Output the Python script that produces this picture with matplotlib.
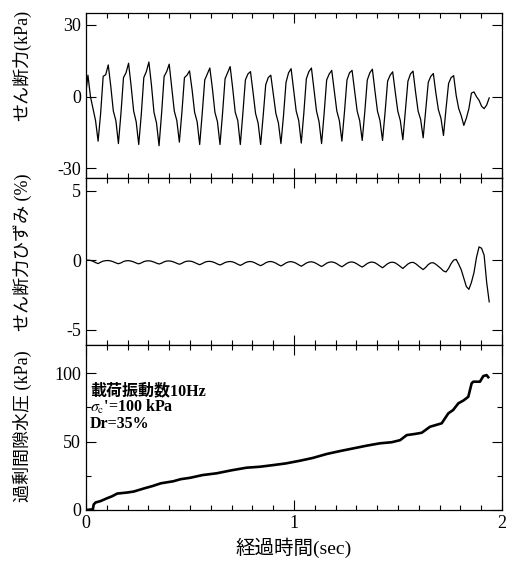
import numpy as np
import matplotlib
matplotlib.use("Agg")
import matplotlib.pyplot as plt
from matplotlib.ticker import MultipleLocator

plt.rcParams["font.family"] = ["Liberation Serif", "Noto Sans CJK JP"]
plt.rcParams["mathtext.fontset"] = "stix"
plt.rcParams["axes.unicode_minus"] = False

# sampling of the stress / strain records (8 samples per load cycle)
t_start = -0.0029
t_step = 0.01221

# shear stress (kPa), one row per load cycle
shear_stress = [
    0,
    9, 0, -5, -10, -18.6, -7, 8.5, 9.2,
    13.3, 4.3, -6, -10, -19.6, -7, 8, 10,
    14, 4.5, -6, -10.5, -20, -7.5, 8, 10.5,
    14.5, 5, -6.5, -11, -20.5, -7, 8.5, 10.5,
    13.6, 4, -6, -10, -19, -6.5, 8, 9,
    10.8, 3, -6.5, -10.5, -20, -7, 7, 9.5,
    12, 3.5, -6.5, -10.5, -20, -7, 7.5, 10,
    12.6, 3.5, -6.5, -10, -20, -7, 7, 9.5,
    10.5, 2, -7, -11, -20, -8, 5, 8,
    9, 1, -7, -11, -19.6, -8, 6, 10,
    11.7, 3, -6, -10, -19.4, -7, 7.5, 10.5,
    12, 3, -6, -10.5, -19.6, -7, 7, 9.5,
    11, 2.5, -6, -10, -18.6, -6.5, 7, 10,
    11, 2.5, -6, -10, -18.3, -6.5, 7, 10,
    11.5, 2.5, -6, -10, -18.3, -6.5, 6.5, 9,
    10.4, 2, -6, -10, -18, -6, 6.5, 9.5,
    10.7, 2, -6, -9.5, -17.2, -5.5, 6, 8.5,
    9.7, 1.5, -5.5, -9, -16.2, -5, 5.5, 8,
    8.8, 0.5, -5, -8, -12, -9, -5, 1.5,
    2, 0, -1.5, -4, -5, -3.5, -0.5,
]

# shear strain (%)
shear_strain = [
    0,
    0, -0.02, -0.08, -0.18, -0.25, -0.15, -0.07, -0.04,
    -0.03, -0.06, -0.12, -0.2, -0.26, -0.2, -0.1, -0.05,
    -0.04, -0.07, -0.13, -0.21, -0.27, -0.2, -0.11, -0.06,
    -0.05, -0.08, -0.14, -0.22, -0.28, -0.22, -0.12, -0.07,
    -0.06, -0.09, -0.15, -0.23, -0.3, -0.23, -0.13, -0.08,
    -0.07, -0.1, -0.17, -0.26, -0.33, -0.25, -0.15, -0.1,
    -0.09, -0.12, -0.19, -0.28, -0.35, -0.27, -0.17, -0.12,
    -0.1, -0.13, -0.2, -0.3, -0.38, -0.29, -0.18, -0.12,
    -0.1, -0.14, -0.22, -0.32, -0.4, -0.31, -0.19, -0.12,
    -0.1, -0.14, -0.22, -0.33, -0.42, -0.32, -0.2, -0.13,
    -0.11, -0.15, -0.23, -0.34, -0.44, -0.33, -0.21, -0.14,
    -0.12, -0.16, -0.25, -0.36, -0.46, -0.35, -0.22, -0.15,
    -0.13, -0.17, -0.26, -0.38, -0.48, -0.36, -0.23, -0.15,
    -0.13, -0.18, -0.28, -0.4, -0.5, -0.38, -0.24, -0.16,
    -0.14, -0.19, -0.3, -0.43, -0.55, -0.41, -0.26, -0.17,
    -0.15, -0.2, -0.32, -0.46, -0.6, -0.44, -0.28, -0.18,
    -0.16, -0.25, -0.4, -0.55, -0.68, -0.52, -0.32, -0.2,
    -0.19, -0.3, -0.45, -0.6, -0.78, -0.85, -0.6, -0.25,
    0.0, 0.05, -0.3, -0.7, -1.3, -1.9, -2.1, -1.6,
    -0.9, 0.2, 0.95, 0.85, 0.35, -1.6, -3.0,
]

# excess pore water pressure (kPa)
pwp_time = [0, 0.033, 0.037, 0.046, 0.07, 0.1, 0.125, 0.15, 0.2, 0.23,
            0.28, 0.32, 0.36, 0.42, 0.455, 0.5, 0.56, 0.628, 0.7, 0.772,
            0.837, 0.9, 0.96, 1.029, 1.09, 1.157, 1.22, 1.285, 1.35, 1.413,
            1.47, 1.51, 1.542, 1.58, 1.614, 1.654, 1.71, 1.742, 1.765, 1.79,
            1.815, 1.838, 1.854, 1.862, 1.894, 1.91, 1.926, 1.934]
pwp = [0, 0.5, 4, 5.5, 6.5, 8.5, 10, 12, 12.8, 13.5,
       15.8, 17.5, 19.5, 21, 22.5, 23.5, 25.5, 26.8, 29, 30.9,
       31.6, 32.8, 34, 36, 38, 40.9, 43, 45, 47, 48.7,
       49.5, 51, 54.7, 55.5, 56.4, 60.8, 63.3, 70.6, 73, 77.9,
       80, 82.7, 92.5, 93.7, 93.7, 97.8, 98.5, 97]

time = t_start + t_step * np.arange(len(shear_stress))

W, H = 507, 568
fig = plt.figure(figsize=(W / 100, H / 100), dpi=100)
left, right = 86 / W, 502 / W
edges = [13, 178, 345, 510]
axes = []
for i in range(3):
    bottom = 1 - edges[i + 1] / H
    height = (edges[i + 1] - edges[i]) / H
    axes.append(fig.add_axes([left, bottom, right - left, height]))
ax1, ax2, ax3 = axes

ax1.plot(time, shear_stress, color="black", lw=0.9)
ax2.plot(time, shear_strain, color="black", lw=0.9)
ax3.plot(pwp_time, pwp, color="black", lw=1.9)

ax1.set_ylim(-34, 35)
ax1.set_yticks([-30, 0, 30])
ax2.set_ylim(-6.1, 5.9)
ax2.set_yticks([-5, 0, 5])
ax3.set_ylim(0, 120.5)
ax3.set_yticks([0, 50, 100])
ax3.yaxis.set_minor_locator(MultipleLocator(25))

for ax in axes:
    ax.set_xlim(0, 2)
    ax.set_xticks([0, 1, 2])
    ax.xaxis.set_minor_locator(MultipleLocator(0.1))
    ax.tick_params(which="both", direction="in", top=True, right=True,
                   labelsize=13, width=0.8)
    ax.tick_params(which="major", length=7)
    ax.tick_params(which="minor", length=3.5)
    for s in ax.spines.values():
        s.set_linewidth(0.9)
    if ax is not ax3:
        ax.tick_params(labelbottom=False)

ax3.set_xlabel("経過時間(sec)", fontsize=14, labelpad=4)

fig.text(22 / W, 1 - 65 / H, "せん断力(kPa)", rotation=90,
         ha="center", va="center", fontsize=13)
fig.text(22 / W, 1 - 252 / H, "せん断力ひずみ (%)", rotation=90,
         ha="center", va="center", fontsize=13)
fig.text(22 / W, 1 - 426 / H, "過剰間隙水圧 (kPa)", rotation=90,
         ha="center", va="center", fontsize=13)

ax3.text(0.02, 87, "載荷振動数10Hz", fontsize=11.5, fontweight="bold", va="center")
ax3.text(0.02, 75, r"$\sigma_{\rm c}$'=100 kPa", fontsize=11.5, fontweight="bold", va="center")
ax3.text(0.02, 63, "Dr=35%", fontsize=11.5, fontweight="bold", va="center")

fig.savefig("out.png", dpi=100)
